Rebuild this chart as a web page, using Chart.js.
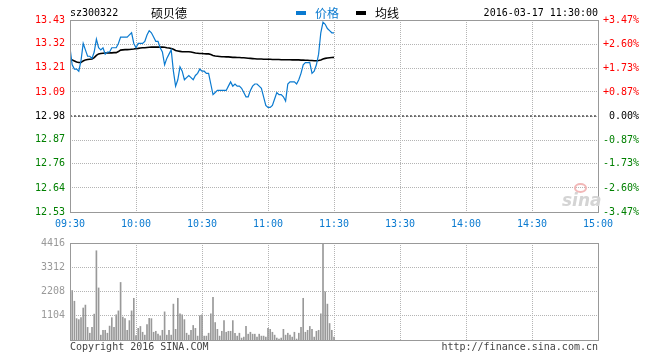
<!DOCTYPE html>
<html>
<head>
<meta charset="utf-8">
<script src="https://cdn.jsdelivr.net/npm/chart.js@4"></script>
<style>
  body { margin: 0; background: #fff; }
  #wrap { position: relative; width: 660px; height: 360px; background: #fff; overflow: hidden; }
  #wrap canvas { position: absolute; left: 0; }
  .txt { position: absolute; font-family: "DejaVu Sans Mono", monospace; font-size: 10px; line-height: 12px; white-space: nowrap; }
  .cjk { position: absolute; font-family: "Noto Sans CJK SC", sans-serif; font-size: 12px; line-height: 14px; white-space: nowrap; }
  .bar { position: absolute; height: 4px; width: 10px; }
</style>
</head>
<body>
<div id="wrap">
  <canvas id="priceChart" width="660" height="232" style="top:0"></canvas>
  <canvas id="volChart" width="660" height="128" style="top:232px"></canvas>

  <div class="txt" style="left:70px; top:7px; color:#000">sz300322</div>
  <div class="cjk" style="left:151px; top:6px; color:#000">硕贝德</div>
  <div class="bar" style="left:296px; top:11px; background:#0a7ad0"></div>
  <div class="cjk" style="left:315px; top:6px; color:#0a7ad0">价格</div>
  <div class="bar" style="left:356px; top:11px; background:#000"></div>
  <div class="cjk" style="left:375px; top:6px; color:#000">均线</div>
  <div class="txt" style="right:62px; top:7px; color:#000">2016-03-17 11:30:00</div>

  <!-- sina watermark -->
  <div style="position:absolute; left:574px; top:183px; width:9px; height:6px; border:2px solid #f2b8b8; border-radius:50%"></div>
  <div style="position:absolute; left:562px; top:190px; font-family:'DejaVu Sans', sans-serif; font-style:italic; font-weight:bold; font-size:17px; color:#d4d4d4">sina</div>

  <div class="txt" style="left:70px; top:341px; color:#444">Copyright 2016 SINA.COM</div>
  <div class="txt" style="right:62px; top:341px; color:#444">http://finance.sina.com.cn</div>
</div>

<script>
// minute ticks (09:30 .. 15:00, lunch break folded into 11:30/13:00)
const tickMinutes = [0, 30, 60, 90, 120, 150, 180, 210, 240];
const timeLabels = ['09:30', '10:00', '10:30', '11:00', '11:30', '13:30', '14:00', '14:30', '15:00'];

const prevClose = 12.98;
const priceTicks = [13.43, 13.32, 13.21, 13.09, 12.98, 12.87, 12.76, 12.64, 12.53];
const pctTicks = [3.47, 2.60, 1.73, 0.87, 0, -0.87, -1.73, -2.60, -3.47];
const volTicks = [1104, 2208, 3312, 4416];

// one value per minute, 09:30 .. 11:30
const price = [
  13.30, 13.22, 13.20, 13.20, 13.19, 13.24, 13.32, 13.29, 13.26, 13.26,
  13.25, 13.28, 13.34, 13.30, 13.29, 13.30, 13.27, 13.28, 13.28, 13.30,
  13.30, 13.30, 13.32, 13.35, 13.35, 13.35, 13.35, 13.36, 13.37, 13.32,
  13.30, 13.32, 13.32, 13.32, 13.33, 13.36, 13.38, 13.37, 13.35, 13.33,
  13.33, 13.30, 13.28, 13.22, 13.25, 13.27, 13.29, 13.19, 13.12, 13.15,
  13.21, 13.19, 13.15, 13.16, 13.17, 13.16, 13.15, 13.17, 13.18, 13.20,
  13.19, 13.19, 13.18, 13.18, 13.13, 13.08, 13.09, 13.10, 13.10, 13.10,
  13.10, 13.10, 13.12, 13.14, 13.12, 13.13, 13.12, 13.12, 13.11, 13.09,
  13.07, 13.07, 13.10, 13.12, 13.13, 13.13, 13.12, 13.11, 13.07, 13.03,
  13.02, 13.02, 13.03, 13.06, 13.09, 13.08, 13.08, 13.07, 13.05, 13.13,
  13.14, 13.14, 13.14, 13.13, 13.15, 13.18, 13.22, 13.23, 13.23, 13.23,
  13.18, 13.19, 13.22, 13.27, 13.37, 13.42, 13.41, 13.39, 13.38, 13.37,
  13.37
];

const avgPrice = [
  13.247, 13.243, 13.238, 13.233, 13.231, 13.231, 13.238, 13.243, 13.245, 13.246,
  13.247, 13.254, 13.264, 13.271, 13.273, 13.274, 13.275, 13.275, 13.276, 13.276,
  13.277, 13.277, 13.282, 13.289, 13.290, 13.291, 13.291, 13.292, 13.293, 13.294,
  13.296, 13.297, 13.299, 13.300, 13.300, 13.301, 13.302, 13.303, 13.303, 13.303,
  13.303, 13.303, 13.303, 13.302, 13.300, 13.299, 13.296, 13.293, 13.287, 13.285,
  13.283, 13.281, 13.281, 13.281, 13.281, 13.280, 13.278, 13.275, 13.274, 13.273,
  13.273, 13.272, 13.271, 13.271, 13.268, 13.264, 13.261, 13.260, 13.259, 13.258,
  13.258, 13.257, 13.257, 13.256, 13.255, 13.255, 13.254, 13.254, 13.253, 13.253,
  13.252, 13.251, 13.250, 13.249, 13.248, 13.247, 13.247, 13.247, 13.246, 13.246,
  13.246, 13.246, 13.245, 13.245, 13.245, 13.245, 13.244, 13.244, 13.244, 13.244,
  13.244, 13.243, 13.243, 13.243, 13.243, 13.242, 13.242, 13.241, 13.241, 13.240,
  13.240, 13.239, 13.239, 13.240, 13.243, 13.247, 13.250, 13.252, 13.253, 13.254,
  13.255
];

const volume = [
  3327, 2252, 1766, 972, 927, 1016, 1457, 1590, 574, 309,
  574, 1178, 4063, 2370, 221, 442, 442, 309, 633, 1016,
  574, 1148, 1325, 2620, 1045, 972, 442, 883, 1325, 1899,
  206, 530, 618, 353, 221, 707, 986, 972, 353, 397,
  265, 191, 442, 1281, 221, 442, 221, 1634, 486, 1899,
  1192, 1148, 927, 309, 221, 442, 662, 530, 177, 1104,
  1148, 177, 177, 309, 1192, 1943, 795, 486, 177, 397,
  883, 353, 397, 397, 883, 309, 177, 309, 88, 132,
  618, 265, 353, 265, 265, 132, 265, 177, 177, 132,
  530, 486, 353, 221, 88, 44, 88, 486, 221, 309,
  221, 132, 353, 44, 309, 574, 1899, 353, 442, 618,
  486, 132, 397, 442, 1192, 4416, 2193, 1634, 751, 442,
  132
];

const BLUE = '#0a7ad0';
const RED = '#ff0000';
const GREEN = '#008000';
const GRID = '#b4b4b4';
const monoFont = { family: 'DejaVu Sans Mono', size: 10 };

// frame around the plot area
const framePlugin = {
  id: 'frame',
  afterDraw(chart) {
    const { ctx, chartArea: a } = chart;
    ctx.save();
    ctx.strokeStyle = '#999';
    ctx.lineWidth = 1;
    ctx.strokeRect(a.left + 0.5, a.top + 0.5, a.right - a.left, a.bottom - a.top);
    ctx.restore();
  }
};

function fixedTicks(list) {
  return scale => { scale.ticks = list.map(v => ({ value: v })); };
}

const timeAxis = {
  type: 'linear',
  min: 0,
  max: 240,
  offset: false,
  afterBuildTicks: fixedTicks(tickMinutes),
  grid: { color: GRID, drawTicks: false, offset: false },
  border: { display: false, dash: [1, 1] }
};

new Chart(document.getElementById('priceChart'), {
  type: 'line',
  data: {
    datasets: [
      {
        label: '价格',
        data: price.map((p, i) => ({ x: i, y: p })),
        borderColor: BLUE,
        borderWidth: 1.2,
        pointRadius: 0,
        tension: 0,
        order: 1
      },
      {
        label: '均线',
        data: avgPrice.map((p, i) => ({ x: i, y: p })),
        borderColor: '#000',
        borderWidth: 1.6,
        pointRadius: 0,
        tension: 0,
        order: 2
      },
      {
        label: 'prev',
        data: [{ x: 0, y: prevClose }, { x: 240, y: prevClose }],
        borderColor: '#000',
        borderWidth: 1,
        borderDash: [2, 2],
        pointRadius: 0,
        order: 3
      }
    ]
  },
  options: {
    responsive: false,
    animation: false,
    devicePixelRatio: 1,
    layout: { padding: { top: 20, right: 21, left: 0, bottom: 0 } },
    plugins: { legend: { display: false }, tooltip: { enabled: false } },
    scales: {
      x: Object.assign({}, timeAxis, {
        ticks: {
          callback: (v, i) => timeLabels[i],
          color: BLUE, font: monoFont, padding: 6,
          maxRotation: 0, autoSkip: false
        },
        afterFit: s => { s.height = 20; }
      }),
      y: {
        position: 'left',
        min: 12.53,
        max: 13.43,
        afterBuildTicks: fixedTicks(priceTicks),
        ticks: {
          callback: v => v.toFixed(2),
          color: c => c.tick.value > prevClose ? RED : (c.tick.value < prevClose ? GREEN : '#000'),
          font: monoFont, padding: 5
        },
        grid: { display: false, drawTicks: false },
        border: { display: false },
        afterFit: s => { s.width = 70; }
      },
      pct: {
        position: 'right',
        min: -3.47,
        max: 3.47,
        afterBuildTicks: fixedTicks(pctTicks),
        ticks: {
          callback: v => (v > 0 ? '+' : '') + v.toFixed(2) + '%',
          color: c => c.tick.value > 0 ? RED : (c.tick.value < 0 ? GREEN : '#000'),
          font: monoFont, padding: 5, crossAlign: 'far'
        },
        grid: { color: GRID, drawTicks: false },
        border: { display: false, dash: [1, 1] },
        afterFit: s => { s.width = 41; }
      }
    }
  },
  plugins: [framePlugin]
});

new Chart(document.getElementById('volChart'), {
  type: 'bar',
  data: {
    datasets: [{
      label: 'volume',
      data: volume.map((v, i) => ({ x: i, y: v })),
      backgroundColor: '#999',
      barThickness: 1
    }]
  },
  options: {
    responsive: false,
    animation: false,
    devicePixelRatio: 1,
    layout: { padding: { top: 8, right: 62, left: 0, bottom: 20 } },
    plugins: { legend: { display: false }, tooltip: { enabled: false } },
    scales: {
      x: Object.assign({}, timeAxis, {
        ticks: { display: false },
        afterFit: s => { s.height = 0; }
      }),
      y: {
        position: 'left',
        min: 0,
        max: 4416,
        afterBuildTicks: fixedTicks(volTicks),
        ticks: { color: '#999', font: monoFont, padding: 5, callback: v => String(v) },
        grid: { color: GRID, drawTicks: false },
        border: { display: false, dash: [1, 1] },
        afterFit: s => { s.width = 70; }
      }
    }
  },
  plugins: [framePlugin]
});
</script>
</body>
</html>
